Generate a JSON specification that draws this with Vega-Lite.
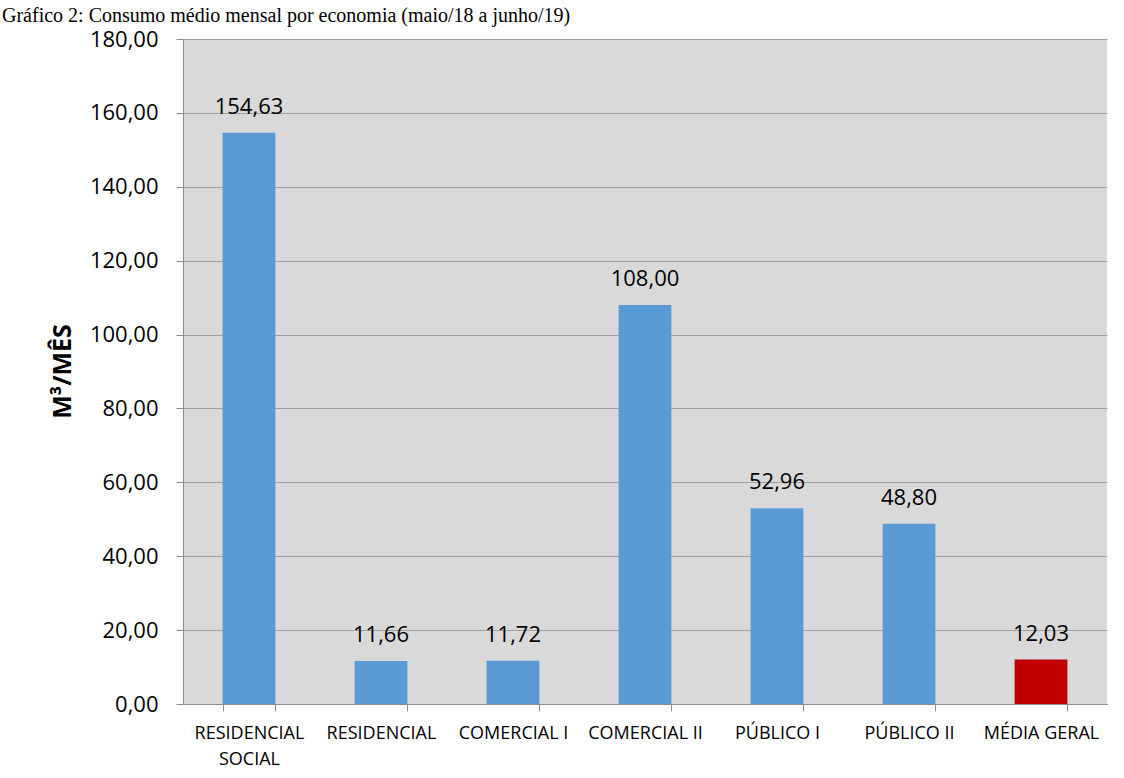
{
  "$schema": "https://vega.github.io/schema/vega-lite/v6.json",
  "width": 924,
  "height": 665,
  "autosize": {"type": "none"},
  "padding": {"left": 183, "top": 39, "right": 17, "bottom": 74},
  "background": "white",
  "config": {
    "locale": {"number": {"decimal": ",", "thousands": ".", "grouping": [3], "currency": ["R$", ""]}},
    "view": {"fill": "#D9D9D9", "stroke": null},
    "font": "Open Sans"
  },
  "title": {
    "text": "Gráfico 2: Consumo médio mensal por economia (maio/18 a junho/19)",
    "font": "Liberation Serif",
    "fontSize": 20,
    "fontWeight": "normal",
    "color": "#000000",
    "anchor": "start",
    "frame": "group",
    "baseline": "alphabetic",
    "dx": -181,
    "dy": 14,
    "offset": 0
  },
  "data": {
    "values": [
      {"categoria": "RESIDENCIAL SOCIAL", "valor": 154.63},
      {"categoria": "RESIDENCIAL", "valor": 11.66},
      {"categoria": "COMERCIAL I", "valor": 11.72},
      {"categoria": "COMERCIAL II", "valor": 108.00},
      {"categoria": "PÚBLICO I", "valor": 52.96},
      {"categoria": "PÚBLICO II", "valor": 48.80},
      {"categoria": "MÉDIA GERAL", "valor": 12.03}
    ]
  },
  "encoding": {
    "x": {
      "field": "categoria",
      "type": "nominal",
      "sort": null,
      "scale": {"paddingInner": 0.6, "paddingOuter": 0.3},
      "axis": {
        "title": null,
        "labelAngle": 0,
        "labelFont": "Open Sans",
        "labelFontSize": 18,
        "labelColor": "#000000",
        "labelPadding": 13,
        "labelLineHeight": 26,
        "labelExpr": "datum.value == 'RESIDENCIAL SOCIAL' ? ['RESIDENCIAL', 'SOCIAL'] : datum.value",
        "tickBand": "extent",
        "tickSize": 7,
        "tickColor": "#8C8C8C",
        "domainColor": "#8C8C8C",
        "grid": false
      }
    },
    "y": {
      "field": "valor",
      "type": "quantitative",
      "scale": {"domain": [0, 180], "nice": false},
      "axis": {
        "title": "M³/MÊS",
        "titleFont": "Open Sans",
        "titleFontSize": 25,
        "titleFontWeight": "bold",
        "titleColor": "#000000",
        "titleAngle": -90,
        "titleX": -113,
        "titleY": 332,
        "titleAlign": "center",
        "titleBaseline": "alphabetic",
        "values": [0, 20, 40, 60, 80, 100, 120, 140, 160, 180],
        "format": ".2f",
        "labelFont": "Open Sans",
        "labelFontSize": 22,
        "labelColor": "#000000",
        "labelPadding": 18,
        "tickSize": 7,
        "tickColor": "#8C8C8C",
        "domainColor": "#8C8C8C",
        "gridColor": "#A0A0A0",
        "grid": true
      }
    }
  },
  "layer": [
    {
      "mark": {"type": "bar"},
      "encoding": {
        "color": {
          "condition": {"test": "datum.categoria == 'MÉDIA GERAL'", "value": "#C00000"},
          "value": "#5B9BD5"
        }
      }
    },
    {
      "mark": {"type": "text", "font": "Open Sans", "fontSize": 22, "color": "#000000", "baseline": "alphabetic", "dy": -19},
      "encoding": {
        "text": {"field": "valor", "type": "quantitative", "format": ".2f"}
      }
    }
  ]
}
